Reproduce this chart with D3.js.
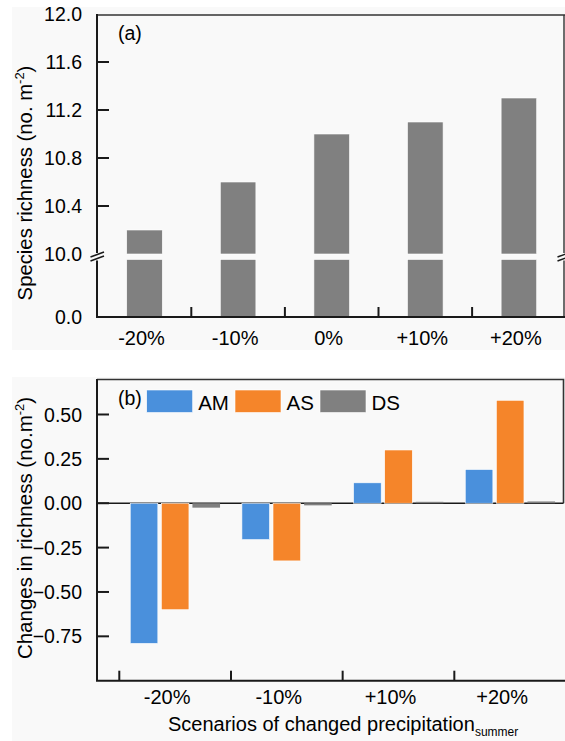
<!DOCTYPE html>
<html>
<head>
<meta charset="utf-8">
<script src="https://cdn.jsdelivr.net/npm/d3@7"></script>
<style>
  body { margin: 0; background: #fff; }
  svg { display: block; }
  text { font-family: "Liberation Sans", Arial, sans-serif; fill: #000; }
</style>
</head>
<body>
<svg id="chart" width="565" height="741"></svg>
<script>
// Panel (a): species richness under each summer precipitation scenario
const scenariosA = ["-20%", "-10%", "0%", "+10%", "+20%"];
const richness = [10.2, 10.6, 11.0, 11.1, 11.3];
const upperTicks = [10.0, 10.4, 10.8, 11.2, 11.6, 12.0];
const lowerTicks = [0.0];

// Panel (b): change in richness by group
const scenariosB = ["-20%", "-10%", "+10%", "+20%"];
const seriesNames = ["AM", "AS", "DS"];
const changeAM = [-0.79, -0.205, 0.115, 0.19];
const changeAS = [-0.60, -0.325, 0.30, 0.58];
const changeDS = [-0.025, -0.012, 0.008, 0.01];
const ticksB = [0.50, 0.25, 0.00, -0.25, -0.50, -0.75];
const seriesColors = ["#4a90dc", "#f5852a", "#808080"];

const svg = d3.select("#chart");
const AXIS = "#1a1a1a";

// soft panel backgrounds
svg.append("rect").attr("x", 12).attr("y", 7).attr("width", 553).attr("height", 343).attr("fill", "#f9f9f9");
svg.append("rect").attr("x", 12).attr("y", 377).attr("width", 553).attr("height", 364).attr("fill", "#f9f9f9");

// ---------------- Panel (a) ----------------
const a = svg.append("g");
const xA = d3.scaleBand().domain(scenariosA).range([97.7, 565.7]).paddingInner(0.62).paddingOuter(0.31);
const yUp = d3.scaleLinear().domain([10, 12]).range([254, 14]);
const yLow = d3.scaleLinear().domain([0, 10]).range([317, 259.5]);

// bars: upper segment above the break, lower segment below it
a.selectAll("rect.up").data(richness).join("rect")
  .attr("x", (d, i) => xA(scenariosA[i]))
  .attr("width", xA.bandwidth())
  .attr("y", d => yUp(d))
  .attr("height", d => yUp(10) - yUp(d))
  .attr("fill", "#808080").attr("stroke", "#fff").attr("stroke-width", 0.6);
a.selectAll("rect.low").data(richness).join("rect")
  .attr("x", (d, i) => xA(scenariosA[i]))
  .attr("width", xA.bandwidth())
  .attr("y", yLow(10))
  .attr("height", yLow(0) - yLow(10))
  .attr("fill", "#808080").attr("stroke", "#fff").attr("stroke-width", 0.6);

// frame: top and right edges
a.append("line").attr("x1", 97).attr("x2", 565).attr("y1", 15).attr("y2", 15)
  .attr("stroke", "#333").attr("stroke-width", 1.6);
a.append("path").attr("d", `M564,15V${yUp(10) - 1}M564,${yLow(10) + 1}V317`)
  .attr("stroke", "#333").attr("stroke-width", 1.4).attr("fill", "none");

// left axis with a break
a.append("path").attr("d", `M97,14V${yUp(10) - 1}M97,${yLow(10) + 1}V318`)
  .attr("stroke", AXIS).attr("stroke-width", 2).attr("fill", "none");
[[-1.5], [2.5]].forEach(([o]) => {
  a.append("line").attr("x1", 90.5).attr("x2", 104).attr("y1", 258.5 + o).attr("y2", 253.5 + o)
    .attr("stroke", AXIS).attr("stroke-width", 1.6);
  a.append("line").attr("x1", 557.5).attr("x2", 568).attr("y1", 258.5 + o).attr("y2", 254.5 + o)
    .attr("stroke", AXIS).attr("stroke-width", 1.4);
});

// y ticks
upperTicks.forEach(t => {
  const y = yUp(t);
  if (t !== 10 && t !== 12) a.append("line").attr("x1", 97).attr("x2", 109).attr("y1", y).attr("y2", y)
    .attr("stroke", AXIS).attr("stroke-width", 2);
  a.append("text").attr("x", 82).attr("y", y).attr("dy", "0.36em").attr("text-anchor", "end")
    .attr("font-size", 19.5).text(d3.format(".1f")(t));
});
lowerTicks.forEach(t => {
  a.append("text").attr("x", 82).attr("y", yLow(t)).attr("dy", "0.36em").attr("text-anchor", "end")
    .attr("font-size", 19.5).text(d3.format(".1f")(t));
});

// x axis
a.append("line").attr("x1", 96).attr("x2", 565).attr("y1", 317).attr("y2", 317)
  .attr("stroke", AXIS).attr("stroke-width", 2);
scenariosA.slice(0, -1).forEach(c => {
  const x = xA(c) + xA.bandwidth() / 2 + xA.step() / 2;
  a.append("line").attr("x1", x).attr("x2", x).attr("y1", 317).attr("y2", 307)
    .attr("stroke", AXIS).attr("stroke-width", 2);
});
scenariosA.forEach(c => {
  a.append("text").attr("x", xA(c) + xA.bandwidth() / 2 - 3).attr("y", 345)
    .attr("text-anchor", "middle").attr("font-size", 20).text(c);
});

a.append("text").attr("x", 118).attr("y", 40).attr("font-size", 19.5).text("(a)");

const titleA = a.append("text").attr("transform", "translate(32,183) rotate(-90)")
  .attr("text-anchor", "middle").attr("font-size", 20.3);
titleA.append("tspan").text("Species richness (no. m");
titleA.append("tspan").attr("font-size", 13).attr("dy", -8).text("-2");
titleA.append("tspan").attr("dy", 8).text(")");

// ---------------- Panel (b) ----------------
const b = svg.append("g");
const xB = d3.scaleBand().domain(scenariosB).range([119.3, 566]);
const groupW = 89.8;
const xInner = d3.scaleBand().domain(seriesNames)
  .range([(xB.step() - groupW) / 2, (xB.step() + groupW) / 2]).paddingInner(0.1125);
const yB = d3.scaleLinear().domain([-1.0, 0.7]).range([680.7, 379]);

// frame
b.append("path").attr("d", `M97,379.5H563.5V${yB(0)}`)
  .attr("stroke", "#333").attr("stroke-width", 1.6).attr("fill", "none");
// zero line
b.append("line").attr("x1", 97).attr("x2", 563.5).attr("y1", yB(0)).attr("y2", yB(0))
  .attr("stroke", AXIS).attr("stroke-width", 1.6);

const seriesValues = [changeAM, changeAS, changeDS];
seriesNames.forEach((s, si) => {
  b.selectAll(null).data(seriesValues[si]).join("rect")
    .attr("x", (d, i) => xB(scenariosB[i]) + xInner(s))
    .attr("width", xInner.bandwidth())
    .attr("y", d => yB(Math.max(0, d)))
    .attr("height", d => Math.abs(yB(d) - yB(0)))
    .attr("fill", seriesColors[si]).attr("stroke", si === 2 ? "none" : "#fff").attr("stroke-width", 0.6);
});

// left and bottom axes
b.append("path").attr("d", `M97,379V${yB(-1)}H565`)
  .attr("stroke", AXIS).attr("stroke-width", 2).attr("fill", "none");

ticksB.forEach(t => {
  const y = yB(t);
  b.append("line").attr("x1", 97).attr("x2", 109).attr("y1", y).attr("y2", y)
    .attr("stroke", AXIS).attr("stroke-width", 2);
  b.append("text").attr("x", 82).attr("y", y).attr("dy", "0.36em").attr("text-anchor", "end")
    .attr("font-size", 19.5).text(d3.format(".2f")(t));
});
scenariosB.forEach(c => {
  const x = xB(c);
  b.append("line").attr("x1", x).attr("x2", x).attr("y1", yB(-1)).attr("y2", yB(-1) - 10)
    .attr("stroke", AXIS).attr("stroke-width", 2);
  b.append("text").attr("x", x + xB.step() / 2 - 8).attr("y", 704)
    .attr("text-anchor", "middle").attr("font-size", 20).text(c);
});

// legend
b.append("text").attr("x", 118).attr("y", 405).attr("font-size", 19.5).text("(b)");
const legendX = [146.7, 235, 320];
seriesNames.forEach((s, i) => {
  b.append("rect").attr("x", legendX[i]).attr("y", 390).attr("width", 46).attr("height", 22.5)
    .attr("fill", seriesColors[i]).attr("stroke", "#fff").attr("stroke-width", 0.6);
  b.append("text").attr("x", legendX[i] + 51.5).attr("y", 410).attr("font-size", 20.5).text(s);
});

const titleB = b.append("text").attr("transform", "translate(32,528) rotate(-90)")
  .attr("text-anchor", "middle").attr("font-size", 20.5);
titleB.append("tspan").text("Changes in richness (no.m");
titleB.append("tspan").attr("font-size", 13).attr("dy", -8).text("-2");
titleB.append("tspan").attr("dy", 8).text(")");

const titleX = b.append("text").attr("x", 168).attr("y", 731).attr("font-size", 20);
titleX.append("tspan").text("Scenarios of changed precipitation");
titleX.append("tspan").attr("font-size", 12).attr("dy", 5).text("summer");
</script>
</body>
</html>
